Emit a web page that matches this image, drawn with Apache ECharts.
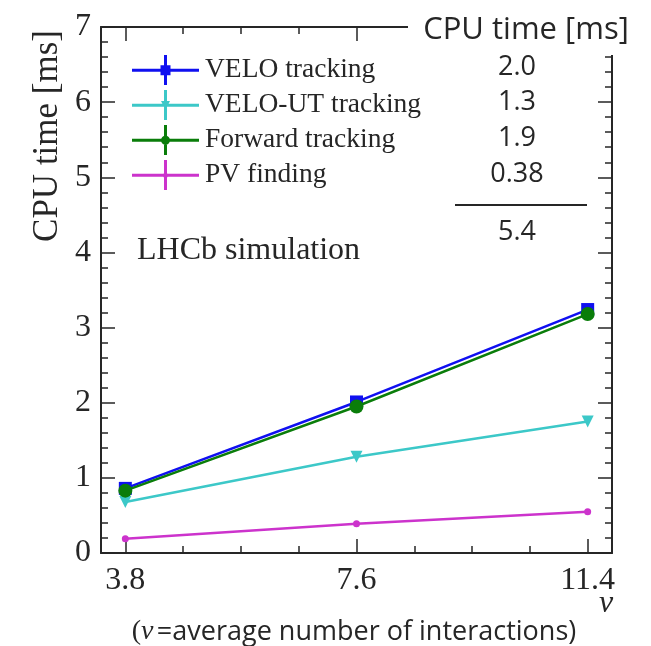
<!DOCTYPE html>
<html>
<head>
<meta charset="utf-8">
<script src="https://cdn.jsdelivr.net/npm/echarts@6/dist/echarts.min.js"></script>
<style>
  html, body { margin: 0; padding: 0; background: #fff; }
  #chart { width: 651px; height: 646px; }
</style>
</head>
<body>
<div id="chart"></div>
<script>
// pile-up values (average number of interactions)
const nu = [3.8, 7.6, 11.4];
const nuMinor = [4.75, 5.7, 6.65, 8.55, 9.5, 10.45];

// CPU time per event [ms] for each reconstruction step
const seriesNames = ['VELO tracking', 'VELO-UT tracking', 'Forward tracking', 'PV finding'];
const veloTracking = [0.86, 2.01, 3.24];
const veloUtTracking = [0.68, 1.28, 1.75];
const forwardTracking = [0.83, 1.95, 3.18];
const pvFinding = [0.19, 0.39, 0.55];

// timing summary table
const tableHeader = 'CPU time [ms]';
const tableValues = ['2.0', '1.3', '1.9', '0.38'];
const tableTotal = '5.4';

const SERIF = '"Liberation Serif", "Times New Roman", serif';
const SANS = '"Open Sans", "Noto Sans", sans-serif';
const INK = '#262626';

const colors = ['#1010f0', '#3cc8c8', '#0a7d0a', '#cc33cc'];
const symbols = ['rect', 'triangle', 'circle', 'circle'];
const symbolSizes = [13, 12, 14, 7];
const symbolRotates = [0, 180, 0, 0];

// legend icons: error-bar cross with the marker in the middle (67 x 30 box)
const hBar = 'M0 13.8 L67 13.8 L67 16.8 L0 16.8 Z ';
const vBar = 'M32 0 L35 0 L35 30 L32 30 Z ';
const legendMarks = [
  'M28.5 10.2 L38.5 10.2 L38.5 20.2 L28.5 20.2 Z',
  'M29 11 L38 11 L33.5 19.5 Z',
  'M29 15.25 A4.5 4.5 0 1 1 38 15.25 A4.5 4.5 0 1 1 29 15.25 Z',
  'M31 15.25 A2.5 2.5 0 1 1 36 15.25 A2.5 2.5 0 1 1 31 15.25 Z'
];

const allValues = [veloTracking, veloUtTracking, forwardTracking, pvFinding];

const series = seriesNames.map((name, i) => ({
  name: name,
  type: 'line',
  xAxisIndex: 0,
  yAxisIndex: 0,
  data: nu.map((x, k) => [x, allValues[i][k]]),
  symbol: symbols[i],
  symbolSize: symbolSizes[i],
  symbolRotate: symbolRotates[i],
  itemStyle: { color: colors[i] },
  lineStyle: { color: colors[i], width: 2.5 },
  emphasis: { disabled: true },
  animation: false,
  z: 3 + i
}));

const fmt = v => Number(v).toFixed(1);

function xAxisDef(position, customTicks, tickLen, showLine, showLabels) {
  return {
    type: 'value',
    position: position,
    min: 3.4,
    max: 11.8,
    axisLine: { show: showLine, onZero: false, lineStyle: { color: INK, width: 2 } },
    axisTick: { show: true, inside: true, length: tickLen, customValues: customTicks, lineStyle: { color: INK, width: 1.5 } },
    axisLabel: showLabels
      ? { show: true, customValues: nu, formatter: fmt, fontFamily: SERIF, fontSize: 32, color: INK, margin: 12 }
      : { show: false },
    splitLine: { show: false }
  };
}

function yAxisDef(position, showLabels) {
  return {
    type: 'value',
    position: position,
    min: 0,
    max: 7,
    interval: 1,
    axisLine: { show: true, onZero: false, lineStyle: { color: INK, width: 2 } },
    axisTick: { show: true, inside: true, length: 14, lineStyle: { color: INK, width: 1.5 } },
    minorTick: { show: true, splitNumber: 5, length: 7, lineStyle: { color: INK, width: 1.5 } },
    axisLabel: showLabels
      ? { show: true, fontFamily: SERIF, fontSize: 32, color: INK, margin: 10 }
      : { show: false },
    splitLine: { show: false },
    minorSplitLine: { show: false }
  };
}

const legendText = { fontFamily: SERIF, fontSize: 27.5, color: INK, padding: [0, 0, 0, 1], lineHeight: 30 };

const chart = echarts.init(document.getElementById('chart'), null, { renderer: 'canvas' });

chart.setOption({
  backgroundColor: '#fff',
  animation: false,
  grid: { left: 101, right: 39, top: 27, bottom: 93, containLabel: false },
  xAxis: [
    xAxisDef('bottom', nu, 14, true, true),
    xAxisDef('bottom', nuMinor, 7, false, false),
    xAxisDef('top', nu, 14, true, false),
    xAxisDef('top', nuMinor, 7, false, false)
  ],
  yAxis: [yAxisDef('left', true), yAxisDef('right', false)],
  legend: {
    orient: 'vertical',
    left: 127,
    top: 50,
    itemWidth: 67,
    itemHeight: 30,
    itemGap: 5,
    selectedMode: false,
    data: seriesNames.map((name, i) => ({
      name: name,
      icon: 'path://' + hBar + vBar + legendMarks[i],
      textStyle: legendText
    })),
    textStyle: legendText
  },
  series: series,
  graphic: [
    {
      type: 'text',
      left: 30, top: 30,
      rotation: Math.PI / 2,
      originX: 0, originY: 0,
      style: { text: 'CPU time [ms]', font: '35px ' + SERIF, fill: INK },
      z: 50
    },
    {
      type: 'text',
      left: 137, top: 235,
      style: { text: 'LHCb simulation', font: '32px ' + SERIF, fill: INK },
      z: 50
    },
    // summary table box sits over the upper right frame corner
    {
      type: 'rect',
      shape: { x: 408, y: 0, width: 243, height: 55 },
      style: { fill: '#fff' },
      z: 60
    },
    {
      type: 'text',
      x: 526, y: 30,
      style: { text: tableHeader, font: '31px ' + SANS, fill: INK, align: 'center', verticalAlign: 'middle' },
      z: 61
    },
    ...tableValues.map((t, i) => ({
      type: 'text',
      x: 517, y: 67 + i * 35.7,
      style: { text: t, font: '27px ' + SANS, fill: INK, align: 'center', verticalAlign: 'middle' },
      z: 61
    })),
    {
      type: 'line',
      shape: { x1: 455, y1: 205, x2: 587, y2: 205 },
      style: { stroke: INK, lineWidth: 2 },
      z: 61
    },
    {
      type: 'text',
      x: 517, y: 232,
      style: { text: tableTotal, font: '27px ' + SANS, fill: INK, align: 'center', verticalAlign: 'middle' },
      z: 61
    },
    // x-axis caption
    {
      type: 'text',
      x: 354, y: 632,
      style: {
        text: '{p|(}{n|ν} {s|=average number of interactions)}',
        align: 'center', verticalAlign: 'middle',
        rich: {
          p: { font: '28px ' + SERIF, fill: INK },
          n: { font: 'italic 28px ' + SERIF, fill: INK },
          s: { font: '27px ' + SANS, fill: INK }
        }
      },
      z: 50
    },
    {
      type: 'text',
      x: 606, y: 604,
      style: { text: 'ν', font: 'italic 32px ' + SERIF, fill: INK, align: 'center', verticalAlign: 'middle' },
      z: 50
    }
  ]
});
</script>
</body>
</html>
